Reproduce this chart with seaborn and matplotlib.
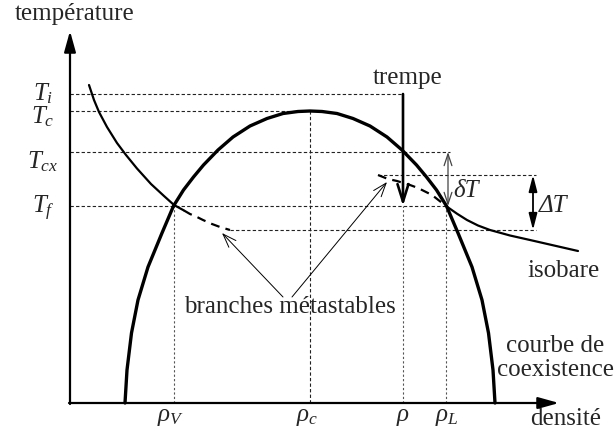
import matplotlib
matplotlib.use("Agg")
import matplotlib.pyplot as plt
import seaborn as sns
import numpy as np

# ---- data (density along x, temperature along y, origin at the axes crossing) ----
# coexistence curve: temperature levels and half-width of the dome around rho_c
dome_T = [0, 33, 70, 103, 136, 170, 197, 213, 226, 238, 253, 266, 277, 284.5, 289.5, 291.5, 292]
dome_halfwidth = [185, 183, 178.5, 172, 162, 148, 136.5, 126.5, 116.5, 106.5, 92, 77, 60, 43, 27, 12, 0]

# isobar: stable gas branch, metastable branches, stable liquid branch
iso_gas_x = [19, 24, 29, 37, 47, 56, 67, 81, 94, 104, 114]
iso_gas_y = [318, 303, 291, 276, 260, 248, 234.5, 219, 207, 198, 192.5]
meta_gas_x = [114, 120, 127, 133, 142, 150, 160]
meta_gas_y = [192.5, 189, 186, 183, 179, 176, 173]
meta_liq_x = [308, 318, 327, 340, 348, 362, 376]
meta_liq_y = [228, 224, 222, 218, 215, 208, 197]
iso_liq_x = [376, 387, 397, 408, 420, 440, 460, 484, 508]
iso_liq_y = [197, 189.3, 183, 177.5, 173, 167.5, 163, 157.5, 152]

# characteristic temperatures and densities
temp_labels = ["$T_i$", "$T_c$", "$T_{cx}$", "$T_f$"]
temp_values = [309, 292, 251, 197]
dens_labels = [r"$\rho_V$", r"$\rho_c$", r"$\rho$", r"$\rho_L$"]
dens_values = [104, 240, 333, 376]
T_meta_liq = 228   # end of metastable liquid branch
T_meta_gas = 173   # end of metastable gas branch

rho_V, rho_c, rho_q, rho_L = dens_values
T_i, T_c, T_cx, T_f = temp_values

# ---- style ----
sns.set_theme(style="white")
plt.rcParams["font.family"] = ["Liberation Serif", "DejaVu Serif"]
plt.rcParams["mathtext.fontset"] = "custom"
plt.rcParams["mathtext.rm"] = "Liberation Serif"
plt.rcParams["mathtext.it"] = "Liberation Serif:italic"
plt.rcParams["mathtext.bf"] = "Liberation Serif:bold"

FS = 18
fig = plt.figure(figsize=(6.14, 4.41), dpi=100)
ax = fig.add_axes([0, 0, 1, 1])
ax.set_xlim(-70, 544)
ax.set_ylim(-38, 403)
ax.axis("off")

ref = dict(color="#222222", lw=0.8, linestyles=(0, (3, 2)))
vref = dict(color="#555555", lw=0.8, linestyles=(0, (2, 2)))

# horizontal reference lines
ax.hlines(T_i, 0, rho_q, **ref)
ax.hlines(T_c, 0, rho_c, **ref)
ax.hlines(T_cx, 0, 380, **ref)
ax.hlines(T_f, 0, rho_L, **ref)
ax.hlines(T_meta_liq, meta_liq_x[0], 466, **ref)
ax.hlines(T_meta_gas, meta_gas_x[-1], 466, **ref)
# vertical reference lines
ax.vlines(rho_V, 0, T_f, **vref)
ax.vlines(rho_c, 0, T_c, **ref)
ax.vlines(rho_q, 0, T_f, **vref)
ax.vlines(rho_L, 0, T_f, **vref)

# coexistence dome
hw = np.array(dome_halfwidth)
Tq = np.array(dome_T)
dome = {
    "x": np.concatenate([rho_c - hw, (rho_c + hw)[::-1]]),
    "y": np.concatenate([Tq, Tq[::-1]]),
}
sns.lineplot(x=dome["x"], y=dome["y"], sort=False, estimator=None,
             color="black", lw=2.4, ax=ax)

# isobar
sns.lineplot(x=iso_gas_x, y=iso_gas_y, sort=False, estimator=None, color="black", lw=1.6, ax=ax)
sns.lineplot(x=iso_liq_x, y=iso_liq_y, sort=False, estimator=None, color="black", lw=1.6, ax=ax)
for xs, ys in [(meta_gas_x, meta_gas_y), (meta_liq_x, meta_liq_y)]:
    sns.lineplot(x=xs, y=ys, sort=False, estimator=None, color="black", lw=1.6, ax=ax)
    ax.lines[-1].set_dashes((4, 2.8))

# axes with arrows
ax.annotate("", xy=(0, 372), xytext=(0, -1),
            arrowprops=dict(arrowstyle="-|>,head_length=0.9,head_width=0.25",
                            lw=1.6, color="black", mutation_scale=14, shrinkA=0, shrinkB=0))
ax.annotate("", xy=(489, 0), xytext=(-1, 0),
            arrowprops=dict(arrowstyle="-|>,head_length=0.9,head_width=0.25",
                            lw=1.6, color="black", mutation_scale=14, shrinkA=0, shrinkB=0))

# quench arrow
ax.annotate("", xy=(rho_q, T_f), xytext=(rho_q, T_i),
            arrowprops=dict(arrowstyle="->,head_length=0.7,head_width=0.22",
                            lw=1.9, color="black", mutation_scale=18, shrinkA=0, shrinkB=0))

# temperature-gap arrows
ax.annotate("", xy=(378, T_f), xytext=(378, T_cx),
            arrowprops=dict(arrowstyle="<->,head_length=0.6,head_width=0.2",
                            lw=0.9, color="#444444", mutation_scale=14, shrinkA=0, shrinkB=0))
ax.annotate("", xy=(463, T_meta_gas), xytext=(463, T_meta_liq),
            arrowprops=dict(arrowstyle="<|-|>,head_length=0.7,head_width=0.18",
                            lw=1.3, color="black", mutation_scale=14, shrinkA=0, shrinkB=0))

# arrows pointing to the metastable branches
for src, tip in [((213, 106), (152, 170)), ((222, 106), (317, 221))]:
    ax.annotate("", xy=tip, xytext=src,
                arrowprops=dict(arrowstyle="->,head_length=0.7,head_width=0.25",
                                lw=0.7, color="black", mutation_scale=14, shrinkA=0, shrinkB=0))

# texts
ax.text(5, 389, "température", ha="center", va="center", fontsize=FS)
ax.text(337.5, 325, "trempe", ha="center", va="center", fontsize=FS)
ax.text(396, 212, "δT", ha="center", va="center", fontsize=FS, style="italic")
ax.text(483, 197, "ΔT", ha="center", va="center", fontsize=FS, style="italic")
ax.text(494, 132, "isobare", ha="center", va="center", fontsize=FS)
ax.text(485, 57, "courbe de", ha="center", va="center", fontsize=FS)
ax.text(485, 33, "coexistence", ha="center", va="center", fontsize=FS)
ax.text(496, -16, "densité", ha="center", va="center", fontsize=FS)
ax.text(220, 96, "branches métastables", ha="center", va="center", fontsize=FS)

for lab, y in zip(temp_labels, [303, 280, 235, 190]):
    ax.text(-27, y, lab, ha="center", va="baseline", fontsize=FS)
for lab, x in zip(dens_labels, [101, 237, 332.5, 376.5]):
    ax.text(x, -18.5, lab, ha="center", va="baseline", fontsize=FS)

fig.savefig("out.png", dpi=100)
